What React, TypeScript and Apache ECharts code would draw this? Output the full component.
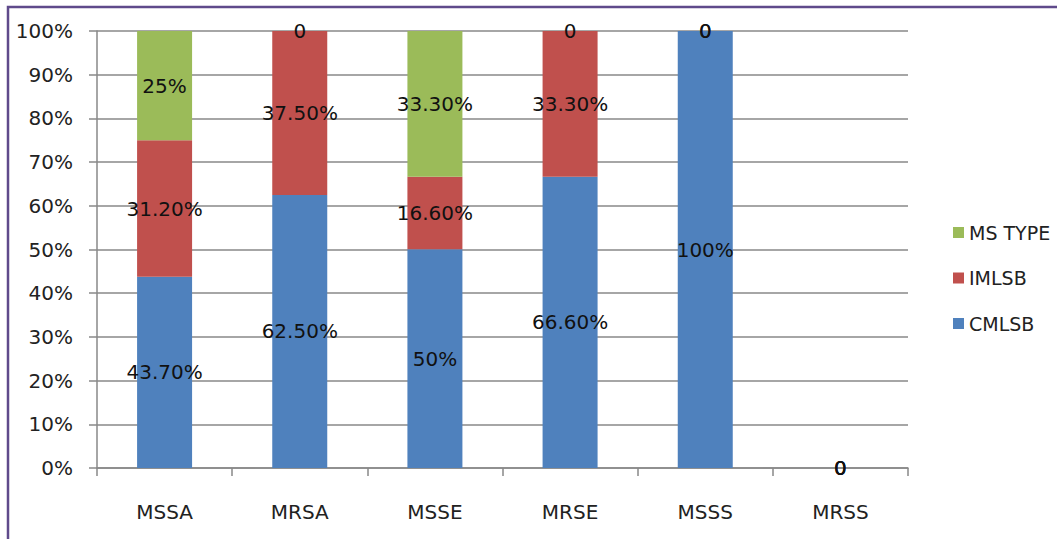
import React, { useEffect, useRef } from "react";
import * as echarts from "echarts";

const categories = ["MSSA", "MRSA", "MSSE", "MRSE", "MSSS", "MRSS"];
const cmlsb = [43.7, 62.5, 50, 66.6, 100, 0];
const imlsb = [31.2, 37.5, 16.6, 33.3, 0, 0];
const msType = [25, 0, 33.3, 0, 0, 0];
const yTicks = [0, 10, 20, 30, 40, 50, 60, 70, 80, 90, 100];

const FONT = "DejaVu Sans";

function fmt(v: number): string {
  if (v === 0) return "0";
  if (Number.isInteger(v)) return v + "%";
  return v.toFixed(2) + "%";
}

export default function App() {
  const ref = useRef<HTMLDivElement>(null);
  useEffect(() => {
    document.body.style.margin = "0";
    const chart = echarts.init(ref.current!, null, { renderer: "svg" });
    const totals = categories.map((_, i) => cmlsb[i] + imlsb[i] + msType[i]);
    const norm = (arr: number[]) =>
      arr.map((v, i) => (totals[i] > 0 ? (v / totals[i]) * 100 : 0));
    const mk = (name: string, raw: number[], color: string) => ({
      name,
      type: "bar",
      stack: "total",
      barWidth: 55,
      data: norm(raw),
      itemStyle: { color },
      label: {
        show: true,
        position: "inside",
        color: "#111",
        fontFamily: FONT,
        fontSize: 20,
        formatter: (p: any) => fmt(raw[p.dataIndex]),
      },
    });
    chart.setOption({
      animation: false,
      backgroundColor: "#fff",
      grid: { left: 97, right: 149, top: 31, bottom: 71 },
      legend: {
        orient: "vertical",
        left: 948,
        top: 218,
        itemWidth: 11,
        itemHeight: 11,
        itemGap: 26.5,
        icon: "rect",
        data: ["MS TYPE", "IMLSB", "CMLSB"],
        textStyle: { fontFamily: FONT, fontSize: 19, color: "#222" },
      },
      xAxis: {
        type: "category",
        data: categories,
        axisLine: { lineStyle: { color: "#888", width: 1.5 } },
        axisTick: { show: true, length: 8, lineStyle: { color: "#888", width: 1.5 } },
        axisLabel: { margin: 34, fontFamily: FONT, fontSize: 20, color: "#222" },
      },
      yAxis: {
        type: "value",
        min: 0,
        max: 100,
        interval: 10,
        axisLine: { show: true, lineStyle: { color: "#888", width: 1.5 } },
        axisTick: { show: true, length: 8, lineStyle: { color: "#888", width: 1.5 } },
        splitLine: { lineStyle: { color: "#888", width: 1.5 } },
        axisLabel: {
          margin: 24,
          fontFamily: FONT,
          fontSize: 20,
          color: "#222",
          formatter: (v: number) => (yTicks.includes(v) ? v + "%" : ""),
        },
      },
      graphic: [
        {
          type: "rect",
          shape: { x: 8, y: 7, width: 1200, height: 700 },
          style: { fill: "none", stroke: "#5f4a8b", lineWidth: 2.5 },
          silent: true,
        },
      ],
      series: [
        mk("CMLSB", cmlsb, "#4f81bd"),
        mk("IMLSB", imlsb, "#c0504d"),
        mk("MS TYPE", msType, "#9bbb59"),
      ],
    });
    return () => chart.dispose();
  }, []);
  return <div ref={ref} style={{ width: 1057, height: 539 }} />;
}
